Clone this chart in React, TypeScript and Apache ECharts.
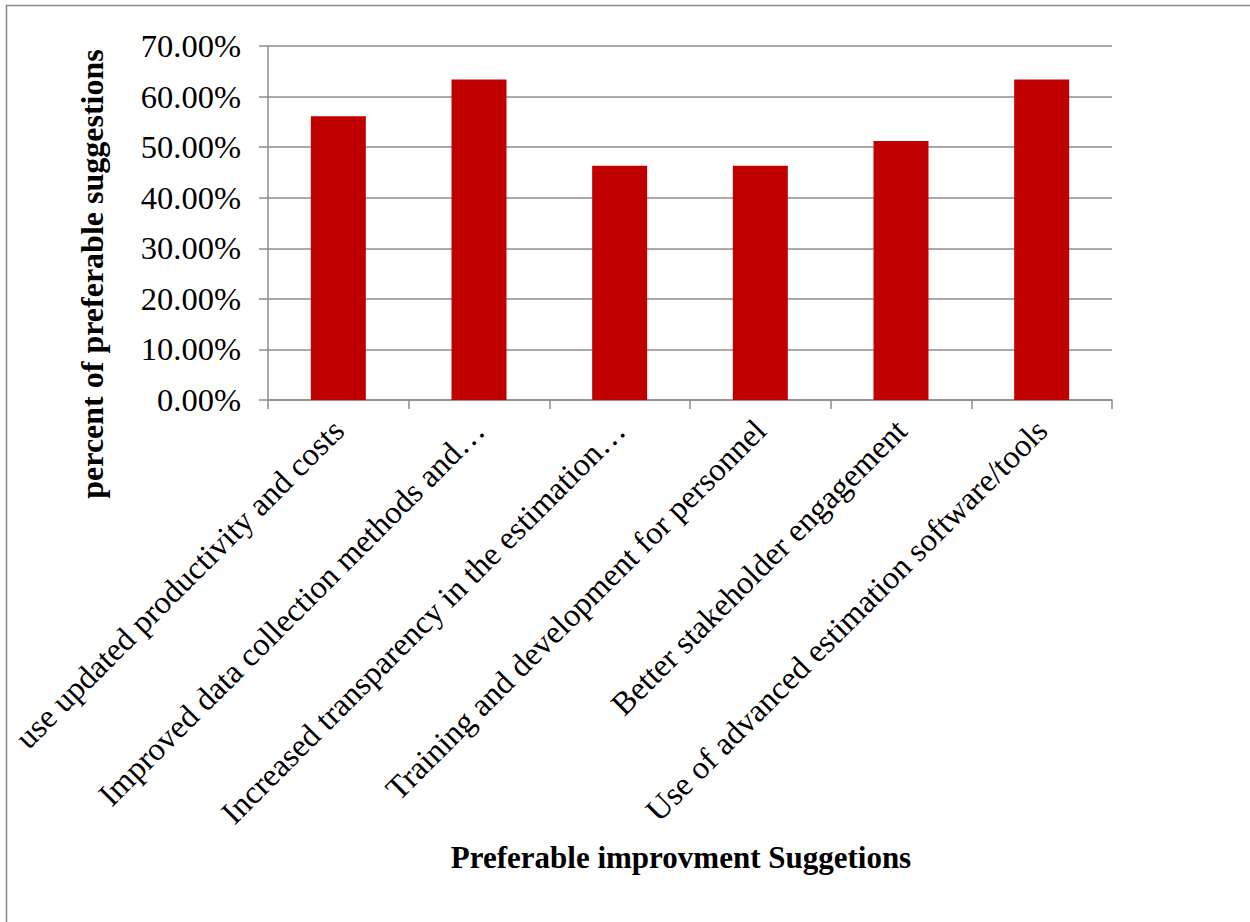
import React, { useEffect, useRef } from "react";
import * as echarts from "echarts";

const categories = [
  "use updated productivity and costs",
  "Improved data collection methods and…",
  "Increased transparency in the estimation…",
  "Training and development for personnel",
  "Better stakeholder engagement",
  "Use of advanced estimation software/tools",
];
const values = [0.561, 0.634, 0.463, 0.463, 0.512, 0.634];
const yTicks = { min: 0, max: 0.7, interval: 0.1 };
const xTitle = "Preferable improvment Suggetions";
const yTitle = "percent of preferable suggestions";

const FONT = "'Liberation Serif', 'Times New Roman', serif";
const GRAY = "#8c8c8c";

export default function App() {
  const ref = useRef<HTMLDivElement>(null);
  useEffect(() => {
    document.body.style.margin = "0";
    const chart = echarts.init(ref.current!, null, { renderer: "svg" });
    chart.setOption({
      animation: false,
      backgroundColor: "#ffffff",
      textStyle: { fontFamily: FONT },
      grid: { left: 268, right: 138, top: 46, bottom: 522, containLabel: false },
      xAxis: {
        type: "category",
        data: categories,
        boundaryGap: true,
        axisLine: { lineStyle: { color: GRAY, width: 1.5 } },
        axisTick: { show: true, length: 9, alignWithLabel: false, lineStyle: { color: GRAY, width: 1.5 } },
        axisLabel: {
          rotate: 45,
          margin: 25,
          interval: 0,
          color: "#000",
          fontFamily: FONT,
          fontSize: 32.5,
        },
      },
      yAxis: {
        type: "value",
        min: yTicks.min,
        max: yTicks.max,
        interval: yTicks.interval,
        axisLine: { show: true, lineStyle: { color: GRAY, width: 1.5 } },
        axisTick: { show: true, length: 9, lineStyle: { color: GRAY, width: 1.5 } },
        splitLine: { show: true, lineStyle: { color: GRAY, width: 1.5 } },
        axisLabel: {
          margin: 27,
          color: "#000",
          fontFamily: FONT,
          fontSize: 32.5,
          formatter: (v: number) => (v * 100).toFixed(2) + "%",
        },
      },
      series: [
        {
          type: "bar",
          data: values,
          barWidth: 55,
          itemStyle: { color: "#C00000" },
        },
      ],
      graphic: [
        {
          type: "rect",
          shape: { x: 6.5, y: 5.5, width: 1400, height: 1100 },
          style: { fill: "none", stroke: "#888888", lineWidth: 1.5 },
          silent: true,
        },
        {
          type: "text",
          x: 681,
          y: 857,
          style: {
            text: xTitle,
            font: `bold 31px ${FONT}`,
            fill: "#000",
            textAlign: "center",
            textVerticalAlign: "middle",
          },
        },
        {
          type: "text",
          x: 92,
          y: 274,
          rotation: Math.PI / 2,
          style: {
            text: yTitle,
            font: `bold 32px ${FONT}`,
            fill: "#000",
            textAlign: "center",
            textVerticalAlign: "middle",
          },
        },
      ],
    });
    return () => chart.dispose();
  }, []);
  return <div ref={ref} style={{ width: 1250, height: 922 }} />;
}
